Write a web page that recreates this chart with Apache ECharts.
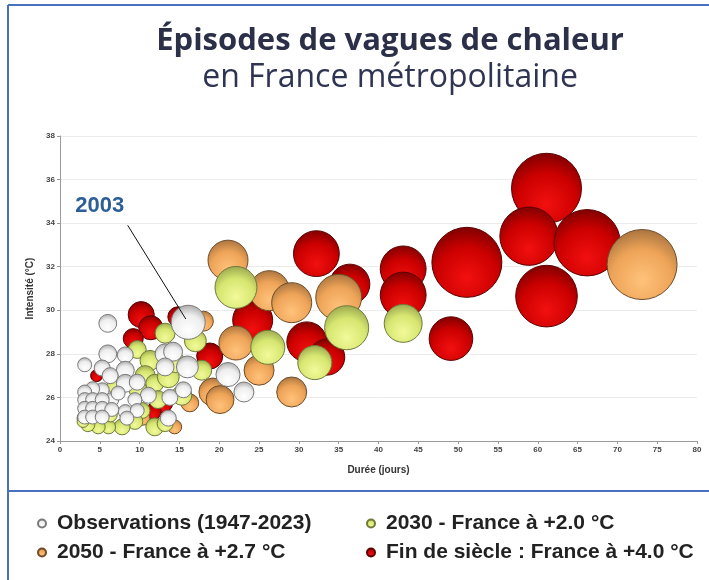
<!DOCTYPE html>
<html>
<head>
<meta charset="utf-8">
<title>Épisodes de vagues de chaleur</title>
<script src="https://cdn.jsdelivr.net/npm/echarts@6/dist/echarts.min.js"></script>
<style>
  html, body { margin: 0; padding: 0; background: #fff; }
  #chart { width: 709px; height: 580px; }
</style>
</head>
<body>
<div id="chart"></div>
<script>
// noms des séries (légende)
const nomObs = 'Observations (1947-2023)';
const nom2030 = '2030 - France à +2.0 °C';
const nom2050 = '2050 - France à +2.7 °C';
const nomFin = 'Fin de siècle : France à +4.0 °C';

// [durée (jours), intensité (°C), sévérité]
const observations = [
  [16.1, 29.45, 11.6], [6.0, 29.4, 3.2], [6.0, 28.0, 3.2], [3.1, 27.5, 1.96],
  [5.3, 27.35, 2.56], [8.2, 27.95, 2.56], [8.2, 27.25, 3.2], [6.3, 27.0, 2.56],
  [8.2, 26.65, 3.2], [9.7, 26.7, 2.56], [13.2, 28.0, 4.0], [14.2, 28.1, 3.6],
  [16.0, 27.4, 4.8], [13.2, 27.4, 3.2], [21.1, 27.05, 5.8], [23.1, 26.25, 4.0],
  [11.1, 26.1, 2.56], [13.8, 26.0, 2.56], [15.5, 26.35, 2.56], [13.6, 25.05, 2.56],
  [8.2, 25.35, 1.96], [6.5, 25.9, 1.96], [5.3, 26.35, 1.96], [4.1, 26.4, 1.96],
  [3.1, 26.25, 1.96], [3.1, 25.9, 1.96], [4.1, 25.9, 1.96], [5.3, 25.9, 1.96],
  [3.1, 25.5, 1.96], [4.1, 25.5, 1.96], [5.3, 25.5, 1.96], [6.5, 25.45, 1.96],
  [3.1, 25.1, 1.96], [4.1, 25.1, 1.96], [5.3, 25.1, 1.96], [7.3, 26.2, 1.96],
  [9.4, 25.9, 1.96], [9.7, 25.4, 1.96], [8.4, 25.05, 1.96]
];

const horizon2030 = [
  [22.1, 31.05, 17.6], [36.0, 29.2, 19.4], [26.1, 28.3, 11.6], [32.0, 27.6, 11.6],
  [43.1, 29.4, 14.4], [13.2, 28.95, 4.0], [17.0, 28.6, 4.8], [9.7, 28.2, 3.2],
  [11.3, 27.7, 4.0], [10.7, 27.0, 4.0], [11.9, 26.65, 3.2], [13.6, 26.95, 4.8],
  [17.8, 27.25, 4.0], [15.3, 26.1, 4.0], [12.3, 25.9, 3.2], [9.8, 26.35, 3.2],
  [6.9, 26.55, 2.56], [10.3, 25.4, 2.56], [9.4, 24.9, 2.56], [11.9, 24.65, 3.2],
  [13.2, 24.8, 2.56], [7.8, 24.65, 2.56], [6.1, 24.65, 1.96], [4.8, 24.65, 1.96],
  [3.5, 24.75, 1.96], [6.3, 25.2, 2.0], [2.9, 24.9, 1.44], [14.5, 27.6, 4.0]
];

const horizon2050 = [
  [73.1, 32.1, 49], [21.1, 32.3, 16], [26.3, 30.9, 16], [29.1, 30.35, 16],
  [35.0, 30.6, 21], [22.1, 28.5, 11.6], [25.0, 27.25, 9], [29.1, 26.25, 9],
  [19.2, 26.25, 7.8], [20.1, 25.9, 7.8], [16.3, 25.75, 3.2], [14.4, 24.65, 1.96],
  [2.9, 25.05, 1.44], [10.4, 25.05, 2.0], [18.0, 29.5, 4.0]
];

const finDeSiecle = [
  [61.1, 35.6, 49], [58.9, 33.4, 34], [66.2, 33.1, 44], [61.1, 30.65, 38],
  [51.1, 32.2, 49], [49.1, 28.7, 19], [43.1, 31.9, 21], [43.1, 30.7, 21],
  [32.2, 32.6, 21], [36.4, 31.2, 16], [24.2, 29.55, 16], [31.0, 28.55, 16],
  [33.5, 27.85, 13], [10.2, 29.8, 6.8], [11.4, 29.2, 5.8], [9.2, 28.7, 4.0],
  [14.8, 29.7, 4.0], [18.8, 27.9, 6.8], [12.9, 25.75, 4.0], [11.7, 25.35, 2.56],
  [3.0, 25.1, 1.44], [4.6, 27.0, 1.44]
];

// annotation 2003 : position du texte, départ et arrivée de la flèche
const label2003 = [5.0, 34.8];
const fleche2003 = [[8.5, 33.9], [15.8, 29.6]];

function bulle(clair, base, sombre) {
  return new echarts.graphic.RadialGradient(0.5, 0.72, 0.78, [
    { offset: 0, color: clair },
    { offset: 0.55, color: base },
    { offset: 1, color: sombre }
  ]);
}

const couleurs = {
  obs: bulle('#ffffff', '#eeeeee', '#9a9a9a'),
  c2030: bulle('#f2fa9a', '#d6e670', '#8d9a48'),
  c2050: bulle('#ffc27a', '#eea458', '#9a6a3a'),
  fin: bulle('#f21010', '#cc0000', '#700000')
};
const bords = { obs: '#7a7a7a', c2030: '#6f7a3c', c2050: '#6e4c28', fin: '#5a0000' };

function taille(v) { return 10 * Math.sqrt(v[2]); }

function serie(nom, data, cle) {
  return {
    name: nom,
    type: 'scatter',
    data: data,
    symbolSize: taille,
    itemStyle: { color: couleurs[cle], borderColor: bords[cle], borderWidth: 1, opacity: 1 },
    emphasis: { disabled: true }
  };
}

const txtLegende = { fontFamily: 'Liberation Sans, Arial', fontSize: 21, fontWeight: 'bold', color: '#222' };
function legende(nom, left, top) {
  return {
    data: [nom], left: left, top: top, itemWidth: 20, itemHeight: 8,
    icon: 'circle', textStyle: txtLegende, selectedMode: false
  };
}

const chart = echarts.init(document.getElementById('chart'));
const obsSerie = serie(nomObs, observations, 'obs');
obsSerie.markLine = {
  silent: true, symbol: 'none', animation: false,
  lineStyle: { color: '#111', width: 1, type: 'solid' },
  label: { show: false },
  data: [[{ coord: fleche2003[0] }, { coord: fleche2003[1] }]]
};
obsSerie.markPoint = {
  silent: true, symbol: 'circle', symbolSize: 0, animation: false,
  label: {
    show: true, formatter: '2003', color: '#2b5f96',
    fontFamily: 'Liberation Sans, Arial', fontSize: 22, fontWeight: 'bold'
  },
  data: [{ coord: label2003 }]
};

chart.setOption({
  backgroundColor: '#fff',
  animation: false,
  title: [
    {
      text: 'Épisodes de vagues de chaleur', left: 385, top: 21, textAlign: 'center',
      textStyle: { fontFamily: 'Open Sans', fontSize: 31, fontWeight: 'bold', color: '#2c2f48' }
    },
    {
      text: 'en France métropolitaine', left: 385, top: 57, textAlign: 'center',
      textStyle: { fontFamily: 'Open Sans', fontSize: 32, fontWeight: 'normal', color: '#2f3452' }
    }
  ],
  legend: [
    legende(nomObs, 32, 508),
    legende(nom2030, 361, 508),
    legende(nom2050, 32, 537),
    legende(nomFin, 361, 537)
  ],
  grid: { left: 60, right: 12, top: 136, bottom: 139 },
  xAxis: {
    type: 'value', min: 0, max: 80, interval: 5,
    name: 'Durée (jours)', nameLocation: 'middle', nameGap: 24,
    nameTextStyle: { fontFamily: 'Liberation Sans, Arial', fontSize: 10, fontWeight: 'bold', color: '#333' },
    axisLine: { lineStyle: { color: '#9a9a9a' } },
    axisTick: { show: true, length: 3, lineStyle: { color: '#9a9a9a' } },
    axisLabel: { fontFamily: 'Liberation Sans, Arial', fontSize: 8, fontWeight: 'bold', color: '#444', margin: 5 },
    splitLine: { show: false }
  },
  yAxis: {
    type: 'value', min: 24, max: 38, interval: 2,
    name: 'Intensité (°C)', nameLocation: 'middle', nameGap: 18,
    nameTextStyle: { fontFamily: 'Liberation Sans, Arial', fontSize: 10, fontWeight: 'bold', color: '#333' },
    axisLine: { show: true, lineStyle: { color: '#9a9a9a' } },
    axisTick: { show: true, length: 3, lineStyle: { color: '#9a9a9a' } },
    axisLabel: { fontFamily: 'Liberation Sans, Arial', fontSize: 8, fontWeight: 'bold', color: '#444', margin: 5 },
    splitLine: { show: true, lineStyle: { color: '#ececec' } }
  },
  graphic: [
    { type: 'line', silent: true, shape: { x1: 8, y1: 5, x2: 8, y2: 580 }, style: { stroke: '#4a70c0', lineWidth: 2 } },
    { type: 'line', silent: true, shape: { x1: 8, y1: 5, x2: 709, y2: 5 }, style: { stroke: '#4a70c0', lineWidth: 2 } },
    { type: 'line', silent: true, shape: { x1: 8, y1: 491, x2: 709, y2: 491 }, style: { stroke: '#4a70c0', lineWidth: 2 } }
  ],
  series: [
    serie(nomFin, finDeSiecle, 'fin'),
    serie(nom2050, horizon2050, 'c2050'),
    serie(nom2030, horizon2030, 'c2030'),
    obsSerie
  ]
});
</script>
</body>
</html>
